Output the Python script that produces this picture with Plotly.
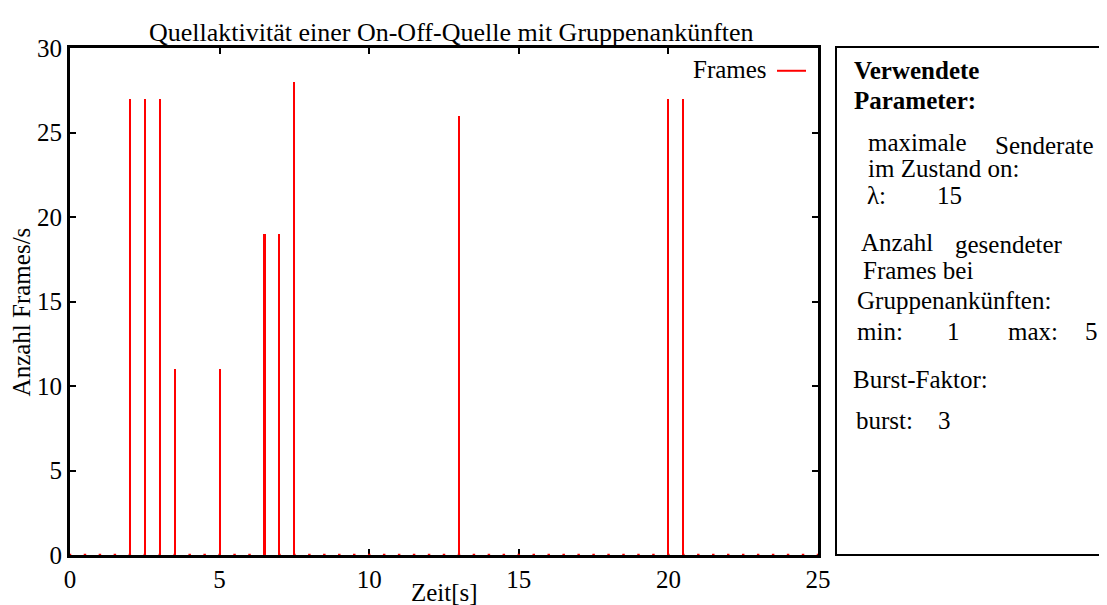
import plotly.graph_objects as go

# ---- data ----
times = [0.0, 0.5, 1.0, 1.5, 2.0, 2.5, 3.0, 3.5, 4.0, 4.5,
         5.0, 5.5, 6.0, 6.5, 7.0, 7.5, 8.0, 8.5, 9.0, 9.5,
         10.0, 10.5, 11.0, 11.5, 12.0, 12.5, 13.0, 13.5, 14.0, 14.5,
         15.0, 15.5, 16.0, 16.5, 17.0, 17.5, 18.0, 18.5, 19.0, 19.5,
         20.0, 20.5, 21.0, 21.5, 22.0, 22.5, 23.0, 23.5, 24.0, 24.5,
         25.0]
frames = [0, 0, 0, 0, 27, 27, 27, 11, 0, 0,
          11, 0, 0, 19, 19, 28, 0, 0, 0, 0,
          0, 0, 0, 0, 0, 0, 26, 0, 0, 0,
          0, 0, 0, 0, 0, 0, 0, 0, 0, 0,
          27, 27, 0, 0, 0, 0, 0, 0, 0, 0,
          0]
x_ticks = [0, 5, 10, 15, 20, 25]
y_ticks = [0, 5, 10, 15, 20, 25, 30]

title_text = "Quellaktivität einer On-Off-Quelle mit Gruppenankünften"
x_title = "Zeit[s]"
y_title = "Anzahl Frames/s"
series_name = "Frames"

# page body has an 8px default margin -> work in page coordinates and shift
OFF = 8
PAGE_W, PAGE_H = 1107, 605
W, H = PAGE_W - OFF, PAGE_H - OFF
PL, PR, PT, PB = 70, 818, 48, 560          # plot area in page pixels
L, T = PL - OFF, PT - OFF
R = W - (PR - OFF)
B = H - (PB - OFF)
PW, PH = PR - PL, PB - PT
FONT = "Liberation Serif, Times New Roman, serif"
FS = 25


def px(x):
    return (x - PL) / PW


def py(y):
    return (PB - y) / PH


fig = go.Figure()
fig.add_trace(go.Bar(x=times, y=frames, width=0.07, name=series_name,
                     marker=dict(color="#ff0000", line=dict(width=0)),
                     showlegend=False))
fig.add_trace(go.Scatter(x=times, y=[0] * len(times), mode="markers",
                         marker=dict(symbol="square", size=2.5, color="#ff0000",
                                     line=dict(width=0)),
                         showlegend=False, hoverinfo="skip"))

axis_common = dict(showgrid=False, zeroline=False, showline=True, linecolor="black",
                   linewidth=3, ticks="inside", ticklen=6, tickwidth=2,
                   tickcolor="black", mirror="ticks",
                   tickfont=dict(family=FONT, size=FS, color="black"))

fig.update_xaxes(range=[0, 25], tickvals=x_ticks, layer="below traces", **axis_common)
fig.update_yaxes(range=[0, 30], tickvals=y_ticks, **axis_common)

annotations = [
    dict(text=title_text, x=px(451), y=py(32), xanchor="center", fs=26),
    dict(text=x_title, x=px(444), y=py(598), xanchor="center"),
    dict(text=y_title, x=px(21), y=py(315), xanchor="center", textangle=-90),
    dict(text=series_name, x=px(769), y=py(70), xanchor="right"),
    dict(text="<b>Verwendete</b>", x=px(852), y=py(71), xanchor="left"),
    dict(text="<b>Parameter:</b>", x=px(852), y=py(101), xanchor="left"),
    dict(text="maximale", x=px(866), y=py(143), xanchor="left"),
    dict(text="Senderate", x=px(993), y=py(146), xanchor="left"),
    dict(text="im Zustand on:", x=px(866), y=py(170), xanchor="left"),
    dict(text="λ:", x=px(865), y=py(197), xanchor="left"),
    dict(text="15", x=px(935), y=py(197), xanchor="left"),
    dict(text="Anzahl", x=px(859), y=py(244), xanchor="left"),
    dict(text="gesendeter", x=px(953), y=py(246), xanchor="left"),
    dict(text="Frames bei", x=px(861), y=py(273), xanchor="left"),
    dict(text="Gruppenankünften:", x=px(855), y=py(303), xanchor="left"),
    dict(text="min:", x=px(855), y=py(334), xanchor="left"),
    dict(text="1", x=px(945), y=py(334), xanchor="left"),
    dict(text="max:", x=px(1006), y=py(334), xanchor="left"),
    dict(text="5", x=px(1083), y=py(334), xanchor="left"),
    dict(text="Burst-Faktor:", x=px(851), y=py(383), xanchor="left"),
    dict(text="burst:", x=px(854), y=py(424), xanchor="left"),
    dict(text="3", x=px(936), y=py(424), xanchor="left"),
]
for a in annotations:
    size = a.pop("fs", FS)
    a.update(xref="paper", yref="paper", showarrow=False, yanchor="middle",
             font=dict(family=FONT, color="black", size=size))

shapes = [
    dict(type="line", xref="paper", yref="paper", x0=px(777), x1=px(806),
         y0=py(71), y1=py(71), line=dict(color="#ff0000", width=2)),
    dict(type="rect", xref="paper", yref="paper", x0=px(836), x1=px(1130),
         y0=py(560), y1=py(47), line=dict(color="black", width=2),
         fillcolor="rgba(0,0,0,0)"),
]

fig.update_layout(width=W, height=H, margin=dict(l=L, r=R, t=T, b=B),
                  paper_bgcolor="white", plot_bgcolor="white",
                  font=dict(family=FONT, size=FS, color="black"),
                  annotations=annotations, shapes=shapes, bargap=0)

fig.write_html("out.html")
